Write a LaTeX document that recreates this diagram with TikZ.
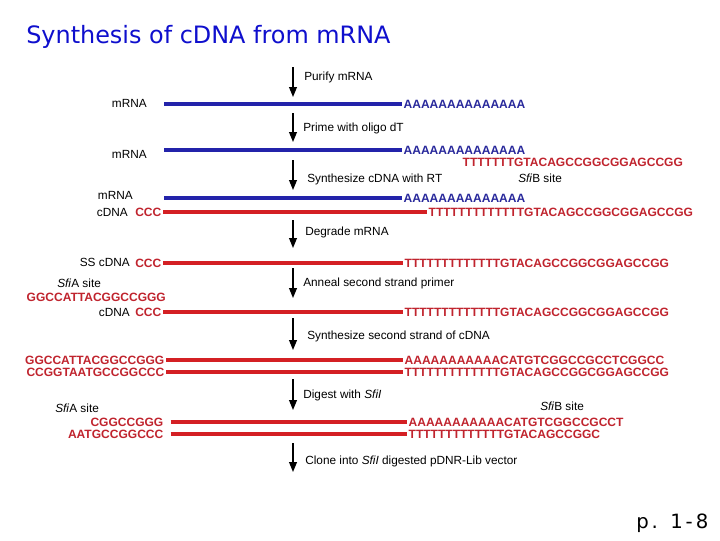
\documentclass[tikz,border=0pt]{standalone}
\usepackage{fontspec}
\setmainfont{Liberation Sans}
\newfontfamily\titlefont{DejaVu Sans}
\newfontfamily\pagefont[LetterSpace=15]{DejaVu Sans}
\usetikzlibrary{arrows.meta}

\definecolor{rnablue}{RGB}{35,35,170}
\definecolor{dnared}{RGB}{212,32,36}
\definecolor{seqblue}{RGB}{40,40,155}
\definecolor{seqred}{RGB}{192,36,46}
\definecolor{titleblue}{RGB}{15,15,205}

\begin{document}
\begin{tikzpicture}[x=0.025cm,y=-0.025cm,
    steptext/.style={anchor=west,inner sep=0pt,font=\fontsize{8.4}{10}\selectfont},
    strandname/.style={anchor=east,inner sep=0pt,font=\fontsize{8.4}{10}\selectfont},
    seq/.style={inner sep=1pt,font=\bfseries\fontsize{8.55}{10}\selectfont},
    redseq/.style={seq,text=seqred},
    blueseq/.style={seq,text=seqblue},
    rna/.style={rnablue,line width=3pt},
    dna/.style={dnared,line width=3pt},
    steparrow/.style={-{Triangle[length=7pt,width=5.5pt]},line width=0.9pt}]

      \useasboundingbox (0,0) rectangle (720,540);

      % Define the title and the page number
      \node[anchor=west,inner sep=0pt,text=titleblue,font=\titlefont\fontsize{17}{19}\selectfont] (title) at (26,37) {Synthesis of cDNA from mRNA};
      \node[anchor=west,inner sep=0pt,font=\pagefont\fontsize{14}{16}\selectfont] (page) at (636,523) {p. 1-8};

      % Define the steps
      \node[steptext] (s1) at (304,77) {Purify mRNA};
      \node[steptext] (s2) at (303,128) {Prime with oligo dT};
      \node[steptext] (s3) at (307,179) {Synthesize cDNA with RT};
      \node[steptext] (s4) at (305,232) {Degrade mRNA};
      \node[steptext] (s5) at (303,283) {Anneal second strand primer};
      \node[steptext] (s6) at (307,336) {Synthesize second strand of cDNA};
      \node[steptext] (s7) at (303,395) {Digest with \textit{SfiI}};
      \node[steptext] (s8) at (305,461) {Clone into \textit{SfiI} digested pDNR-Lib vector};

      \coordinate (from1) at (293,67);  \coordinate (to1) at (293,97);
      \coordinate (from2) at (293,113); \coordinate (to2) at (293,142);
      \coordinate (from3) at (293,160); \coordinate (to3) at (293,190);
      \coordinate (from4) at (293,220); \coordinate (to4) at (293,248);
      \coordinate (from5) at (293,268); \coordinate (to5) at (293,298);
      \coordinate (from6) at (293,318); \coordinate (to6) at (293,350);
      \coordinate (from7) at (293,379); \coordinate (to7) at (293,410);
      \coordinate (from8) at (293,443); \coordinate (to8) at (293,472);

      % Define the strands
      \node[strandname] (m1) at (147,103) {mRNA};
      \coordinate (b1) at (164,104);
      \node[blueseq,anchor=west] (a1) at (402,104) {AAAAAAAAAAAAAA};

      \node[strandname] (m2) at (147,154) {mRNA};
      \coordinate (b2) at (164,150);
      \node[blueseq,anchor=west] (a2) at (402,150) {AAAAAAAAAAAAAA};
      \node[redseq,anchor=west] (t2) at (461,162) {TTTTTTTGTACAGCCGGCGGAGCCGG};
      \node[steptext] (sfib1) at (518,178) {\textit{Sfi}B site};

      \node[strandname] (m3) at (133,195) {mRNA};
      \coordinate (b3) at (164,198);
      \node[blueseq,anchor=west] (a3) at (402,198) {AAAAAAAAAAAAAA};
      \node[strandname] (c3) at (128,212) {cDNA};
      \node[redseq,anchor=east] (ccc3) at (163,212) {CCC};
      \node[redseq,anchor=west] (t3) at (427,212) {TTTTTTTTTTTTTGTACAGCCGGCGGAGCCGG};

      \node[strandname] (c4) at (130,262) {SS cDNA};
      \node[redseq,anchor=east] (ccc4) at (163,263) {CCC};
      \node[redseq,anchor=west] (t4) at (403,263) {TTTTTTTTTTTTTGTACAGCCGGCGGAGCCGG};

      \node[steptext] (sfia1) at (57,283) {\textit{Sfi}A site};
      \node[redseq,anchor=west] (p5) at (25,297) {GGCCATTACGGCCGGG};
      \node[strandname] (c5) at (130,312) {cDNA};
      \node[redseq,anchor=east] (ccc5) at (163,312) {CCC};
      \node[redseq,anchor=west] (t5) at (403,312) {TTTTTTTTTTTTTGTACAGCCGGCGGAGCCGG};

      \node[redseq,anchor=east] (g6) at (166,360) {GGCCATTACGGCCGGG};
      \node[redseq,anchor=west] (a6) at (403,360) {AAAAAAAAAAACATGTCGGCCGCCTCGGCC};
      \node[redseq,anchor=east] (c6) at (166,372) {CCGGTAATGCCGGCCC};
      \node[redseq,anchor=west] (t6) at (403,372) {TTTTTTTTTTTTTGTACAGCCGGCGGAGCCGG};

      \node[steptext] (sfia2) at (55,408) {\textit{Sfi}A site};
      \node[steptext] (sfib2) at (540,406) {\textit{Sfi}B site};
      \node[redseq,anchor=east] (g7) at (165,422) {CGGCCGGG};
      \node[redseq,anchor=west] (a7) at (407,422) {AAAAAAAAAAACATGTCGGCCGCCT};
      \node[redseq,anchor=east] (c7) at (165,434) {AATGCCGGCCC};
      \node[redseq,anchor=west] (t7) at (407,434) {TTTTTTTTTTTTTGTACAGCCGGC};

      % Draw the strands
      \draw[rna] (b1) -- (a1.west);
      \draw[rna] (b2) -- (a2.west);
      \draw[rna] (b3) -- (a3.west);
      \draw[dna] (ccc3.east) -- (t3.west);
      \draw[dna] (ccc4.east) -- (t4.west);
      \draw[dna] (ccc5.east) -- (t5.west);
      \draw[dna] (g6.east) -- (a6.west);
      \draw[dna] (c6.east) -- (t6.west);
      \draw[dna,shorten <=4pt] (g7.east) -- (a7.west);
      \draw[dna,shorten <=4pt] (c7.east) -- (t7.west);

      % Draw the step arrows
      \draw[steparrow] (from1) -- (to1);
      \draw[steparrow] (from2) -- (to2);
      \draw[steparrow] (from3) -- (to3);
      \draw[steparrow] (from4) -- (to4);
      \draw[steparrow] (from5) -- (to5);
      \draw[steparrow] (from6) -- (to6);
      \draw[steparrow] (from7) -- (to7);
      \draw[steparrow] (from8) -- (to8);
  \end{tikzpicture}
\end{document}
